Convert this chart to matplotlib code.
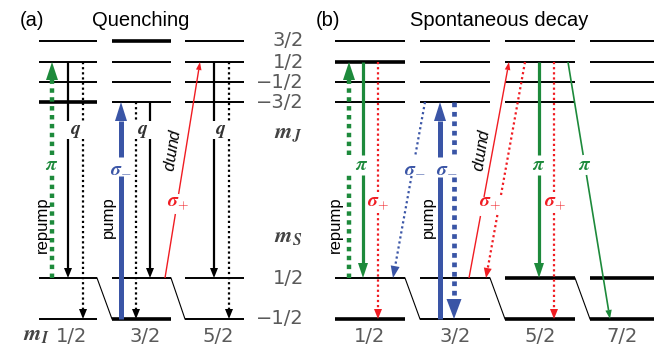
import numpy as np
import matplotlib.pyplot as plt
from matplotlib.patches import Polygon

plt.rcParams['mathtext.fontset'] = 'cm'
plt.rcParams['font.family'] = ['Liberation Sans', 'DejaVu Sans']

GREEN = '#1d8a3b'
BLUE = '#3a55a6'
RED = '#f01c22'
GRAY = '#5a5a5a'

# level heights (pixels from top)
mj_y = [41, 62, 82, 102]          # m_J = 3/2, 1/2, -1/2, -3/2
ms_y = [278, 319]                 # m_S = 1/2, -1/2
mj_labels = ['3/2', '1/2', '\u22121/2', '\u22123/2']
ms_labels = ['1/2', '\u22121/2']

# columns (x-span) per m_I
cols_a = [(39, 97), (112, 171), (185, 244)]
cols_b = [(335, 405), (420, 490), (505, 575), (590, 654)]
mi_a = ['1/2', '3/2', '5/2']
mi_b = ['1/2', '3/2', '5/2', '7/2']

# thick levels: (column, y)
thick_a = [(0, 102), (1, 41), (1, 319)]
thick_b = [(0, 62), (0, 319), (2, 278), (2, 319), (3, 278), (3, 319)]

# transitions: x0, y0, x1, y1, colour, kind, gap (y-range)
trans_a = [
    (52, 278, 52, 62, GREEN, 'thickdot', (155, 175)),
    (68, 62, 68, 278, 'k', 'solid', (121, 139)),
    (83, 62, 83, 319, 'k', 'dot', (121, 139)),
    (121, 319, 121, 102, BLUE, 'thick', (157, 176)),
    (136, 102, 136, 319, 'k', 'dot', (121, 139)),
    (150, 102, 150, 278, 'k', 'solid', (121, 139)),
    (165, 278, 200, 62, RED, 'thin', (194, 214)),
    (214, 62, 214, 278, 'k', 'solid', (121, 139)),
    (229, 62, 229, 319, 'k', 'dot', (121, 139)),
]
trans_b = [
    (349, 278, 349, 62, GREEN, 'thickdot', (155, 175)),
    (363, 62, 363, 278, GREEN, 'mid', (155, 175)),
    (378, 62, 378, 319, RED, 'reddot', (193, 213)),
    (425, 102, 393, 278, BLUE, 'bluedot', (156, 176)),
    (440, 319, 440, 102, BLUE, 'thick', (157, 177)),
    (454, 102, 454, 319, BLUE, 'bigdot', (157, 177)),
    (469, 278, 509, 62, RED, 'thin', (197, 216)),
    (525, 62, 486, 278, RED, 'reddot', (197, 215)),
    (539, 62, 539, 278, GREEN, 'mid', (155, 175)),
    (554, 62, 554, 319, RED, 'reddot', (193, 213)),
    (568, 62, 610, 319, GREEN, 'midthin', (155, 175)),
]

# line width, dash, head length, head half-width
kinds = {
    'solid': (1.6, '-', 10, 4),
    'dot': (1.6, (0, (1, 1.3)), 10, 4),
    'thickdot': (3.2, (0, (1, 1)), 18, 6),
    'thick': (3.6, '-', 19, 6),
    'thin': (1.0, '-', 8, 2.8),
    'mid': (2.3, '-', 15, 5),
    'midthin': (1.2, '-', 9, 3.2),
    'reddot': (1.6, (0, (1, 1.3)), 10, 4),
    'bluedot': (1.6, (0, (1, 1.3)), 12, 4.5),
    'bigdot': (3.4, (0, (1, 1)), 20, 7.5),
}

Q = r'$\boldsymbol{q}$'
PI = r'$\boldsymbol{\pi}$'
SM = r'$\boldsymbol{\sigma}_{\boldsymbol{-}}$'
SP = r'$\boldsymbol{\sigma}_{\boldsymbol{+}}$'

# labels on transitions: x, y, text, colour
lab_a = [
    (76, 132, Q, '#333333'),
    (143, 132, Q, '#333333'),
    (221, 132, Q, '#333333'),
    (52, 165, PI, GREEN),
    (121, 167, SM, BLUE),
    (178, 203, SP, RED),
]
lab_b = [
    (362, 165, PI, GREEN),
    (378, 203, SP, RED),
    (415, 167, SM, BLUE),
    (447, 167, SM, BLUE),
    (490, 203, SP, RED),
    (539, 165, PI, GREEN),
    (555, 203, SP, RED),
    (585, 165, PI, GREEN),
]
# rotated words: x, y, text, rotation, italic
words = [
    (42, 225, 'repump', 90, False),
    (108, 217, 'pump', 90, False),
    (172, 150, 'pump', -99, True),
    (335, 225, 'repump', 90, False),
    (428, 217, 'pump', 90, False),
    (481, 150, 'pump', -99, True),
]


def head(ax, x0, y0, x1, y1, L, W, color):
    d = np.array([x1 - x0, y1 - y0], float)
    d /= np.hypot(*d)
    n = np.array([-d[1], d[0]])
    tip = np.array([x1, y1])
    base = tip - L * d
    ax.add_patch(Polygon([tip, base + W * n, base - W * n], closed=True,
                         fc=color, ec='none', zorder=4))
    return base


def transition(ax, x0, y0, x1, y1, color, kind, gap):
    lw, ls, L, W = kinds[kind]
    bx, by = head(ax, x0, y0, x1, y1, L, W, color)
    # split line at the label gap
    t0 = (gap[0] - y0) / (by - y0)
    t1 = (gap[1] - y0) / (by - y0)
    ta, tb = sorted([t0, t1])
    for s, e in [(0, ta), (tb, 1)]:
        xs = [x0 + s * (bx - x0), x0 + e * (bx - x0)]
        ys = [y0 + s * (by - y0), y0 + e * (by - y0)]
        ax.plot(xs, ys, color=color, lw=lw, ls=ls, solid_capstyle='butt',
                dash_capstyle='butt', zorder=3)


def levels(ax, cols, thick):
    for i, (xa, xb) in enumerate(cols):
        for y in mj_y + ms_y:
            lw = 2.6 if (i, y) in thick else 1.4
            ax.plot([xa, xb], [y, y], color='k', lw=lw, solid_capstyle='butt', zorder=2)
        if i < len(cols) - 1:
            ax.plot([xb, cols[i + 1][0]], [ms_y[0], ms_y[1]], color='k', lw=0.8, zorder=2)


fig = plt.figure(figsize=(6.65, 3.49), dpi=100)
ax = fig.add_axes([0, 0, 1, 1])
ax.set_xlim(0, 665)
ax.set_ylim(349, 0)
ax.axis('off')

levels(ax, cols_a, thick_a)
levels(ax, cols_b, thick_b)

for t in trans_a + trans_b:
    transition(ax, *t)

for x, y, s, c in lab_a + lab_b:
    ax.text(x, y, s, color=c, fontsize=14, ha='center', va='center', zorder=5)

for x, y, s, rot, it in words:
    ax.text(x, y, s, fontsize=12, rotation=rot, ha='center', va='center',
            style='italic' if it else 'normal', rotation_mode='anchor')

# right-hand level labels
for y, s in zip(mj_y + ms_y, mj_labels + ms_labels):
    ax.text(304, y, s, fontsize=14, color=GRAY, ha='right', va='center',
            family='DejaVu Sans')
MJ = r'$\boldsymbol{m}_{\boldsymbol{J}}$'
MS = r'$\boldsymbol{m}_{\boldsymbol{S}}$'
MI = r'$\boldsymbol{m}_{\boldsymbol{I}}$'
ax.text(303, 134, MJ, fontsize=16, color='#444444', ha='right', va='center')
ax.text(303, 237, MS, fontsize=16, color='#444444', ha='right', va='center')

# bottom m_I labels
ax.text(50, 335, MI, fontsize=16, color='#444444', ha='right', va='center')
for (xa, xb), s in zip(cols_a, mi_a):
    ax.text((xa + xb) / 2 + 4, 337, s, fontsize=14, color=GRAY, ha='center',
            va='center', family='DejaVu Sans')
for (xa, xb), s in zip(cols_b, mi_b):
    ax.text((xa + xb) / 2, 337, s, fontsize=14, color=GRAY, ha='center',
            va='center', family='DejaVu Sans')

ax.text(32, 20, '(a)', fontsize=14.5, ha='center', va='center')
ax.text(141, 20, 'Quenching', fontsize=14.5, ha='center', va='center')
ax.text(328, 20, '(b)', fontsize=14.5, ha='center', va='center')
ax.text(499, 20, 'Spontaneous decay', fontsize=14.5, ha='center', va='center')

fig.savefig('out.png', dpi=100)
